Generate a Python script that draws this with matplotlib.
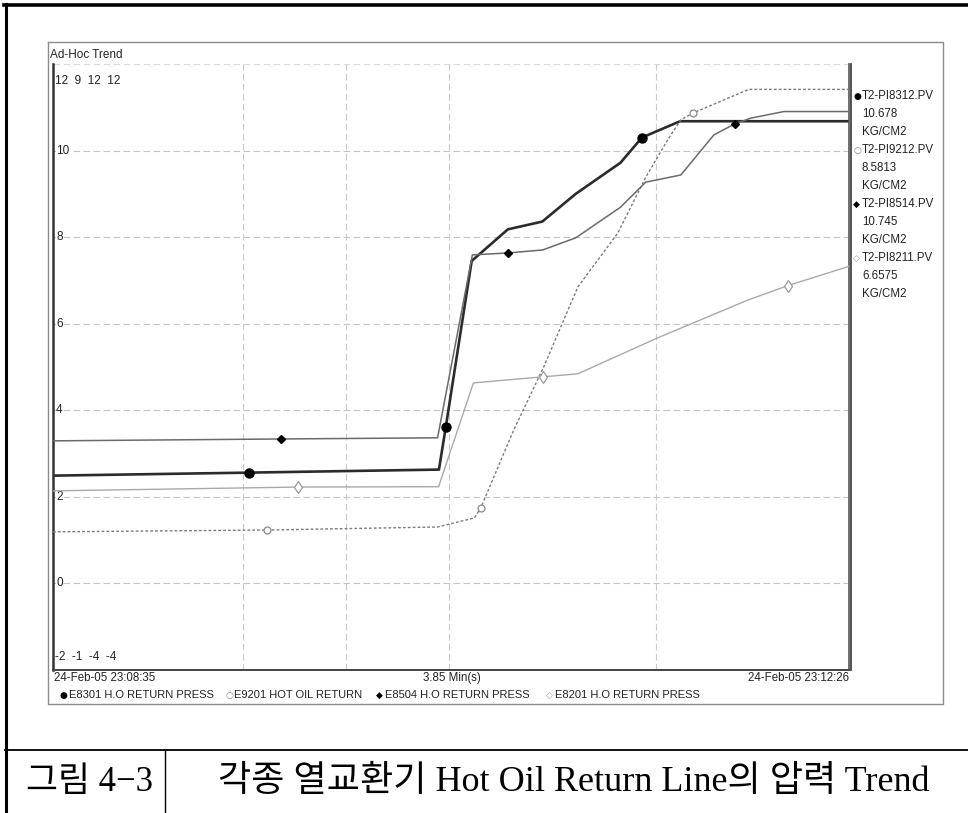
import matplotlib
matplotlib.use("Agg")
import matplotlib.pyplot as plt
from matplotlib.lines import Line2D
from datetime import datetime, timedelta

# ---- data: seconds after the window start, values in each tag's own units ----
start_time = datetime(2005, 2, 24, 23, 8, 35)
span_seconds = 231

# E8301 H.O RETURN PRESS  (T2-PI8312.PV)
t_8301 = [0, 57, 112, 114, 121.5, 132, 142, 151.7, 164.7, 170.9, 182, 231]
v_8301 = [2.49, 2.56, 2.63, 3.62, 7.45, 8.18, 8.36, 9.0, 9.72, 10.3, 10.678, 10.678]
mk_8301 = [1, 3, 9]

# E9201 HOT OIL RETURN  (T2-PI9212.PV)
t_9201 = [0, 62, 111.6, 122.3, 124.1, 133.7, 142.4, 152.3, 163.9, 172, 178.4, 182.2, 185.7, 201.9, 231]
v_9201 = [1.28, 1.31, 1.36, 1.51, 1.67, 2.96, 4.0, 5.32, 6.21, 7.13, 7.75, 8.08, 8.19, 8.5813, 8.5813]
mk_9201 = [1, 4, 12]

# E8504 H.O RETURN PRESS  (T2-PI8514.PV)
t_8504 = [0, 66.2, 111.6, 121.7, 131.9, 142.1, 151.7, 164.7, 172, 182.2, 191.8, 197.9, 202.5, 212.1, 231]
v_8504 = [2.05, 2.10, 2.13, 6.96, 7.01, 7.09, 7.41, 8.22, 8.88, 9.07, 10.13, 10.42, 10.57, 10.745, 10.745]
mk_8504 = [1, 4, 11]

# E8201 H.O RETURN PRESS  (T2-PI8211.PV)
t_8201 = [0, 71.2, 111.9, 122, 142.1, 152.3, 175.5, 201.7, 213.3, 231]
v_8201 = [0.73, 0.83, 0.84, 3.58, 3.74, 3.82, 4.77, 5.77, 6.15, 6.6575]
mk_8201 = [1, 4, 8]

series_names = ["E8301 H.O RETURN PRESS", "E9201 HOT OIL RETURN",
                "E8504 H.O RETURN PRESS", "E8201 H.O RETURN PRESS"]
tag_names = ["T2-PI8312.PV", "T2-PI9212.PV", "T2-PI8514.PV", "T2-PI8211.PV"]
tag_units = "KG/CM2"
scale_max = [12, 9, 12, 12]
scale_min = [-2, -1, -4, -4]
left_ticks = [0, 2, 4, 6, 8, 10]
grid_seconds = [55, 85, 115, 175]

caption_no = "그림 4−3"
caption_text = "각종 열교환기 Hot Oil Return Line의 압력 Trend"

# ---- figure ----
W, H = 968, 813
fig = plt.figure(figsize=(W / 100, H / 100), dpi=100)
fig.patch.set_facecolor("white")
UI = ["Liberation Sans", "DejaVu Sans"]


def fx(x):
    return x / W


def fy(y):
    return 1 - y / H


def fline(xs, ys, **kw):
    fig.add_artist(Line2D([fx(x) for x in xs], [fy(y) for y in ys],
                          transform=fig.transFigure, **kw))


# document frame and caption table
fline([4, 968], [5, 5], color="black", lw=2.6)
fline([6, 6], [4, 813], color="black", lw=2.2)
fline([5, 968], [750, 750], color="black", lw=1.3)
fline([165, 165], [750, 813], color="black", lw=1.0)

# screenshot frame
fline([48, 943, 943, 48, 48], [42, 42, 704, 704, 42], color="#8c8c8c", lw=1.0)
fline([851, 851], [64, 670], color="#444444", lw=1.3)

# ---- trend axes ----
ax = fig.add_axes([fx(53), fy(670), fx(849) - fx(53), fy(64) - fy(670)])
ax.set_xlim(0, span_seconds)
ax.set_ylim(scale_min[0], scale_max[0])
ax.set_xticks([])
ax.set_yticks([])
ax.spines["top"].set_visible(False)
ax.spines["left"].set_color("#333333")
ax.spines["left"].set_linewidth(1.8)
ax.spines["bottom"].set_color("#444444")
ax.spines["bottom"].set_linewidth(1.4)
ax.spines["right"].set_color("#555555")
ax.spines["right"].set_linewidth(1.2)

for v in left_ticks:
    ax.axhline(v, color="#c4c4c4", lw=0.8, ls=(0, (6, 3)), zorder=0)
ax.axhline(scale_max[0], color="#dcdcdc", lw=0.8, ls=(0, (6, 3)), zorder=0)
for s in grid_seconds:
    ax.axvline(s, color="#cacaca", lw=0.8, ls=(0, (6, 3)), zorder=0)

for v in left_ticks:
    ax.text(0.9, v, str(v), ha="left", va="center", fontsize=8.5, family=UI, zorder=1,
            color="#222222", bbox=dict(facecolor="white", edgecolor="none", pad=0.3))

ax.text(0.003, 0.982, "  ".join(str(m) for m in scale_max), transform=ax.transAxes,
        ha="left", va="top", fontsize=8.5, family=UI, color="#222222")
ax.text(0.003, 0.012, "  ".join(str(m) for m in scale_min), transform=ax.transAxes,
        ha="left", va="bottom", fontsize=8.5, family=UI, color="#222222")

# each tag is drawn on its own vertical scale
axes = [ax]
for i in range(1, 4):
    tw = ax.twinx()
    tw.set_ylim(scale_min[i], scale_max[i])
    tw.set_yticks([])
    for sp in tw.spines.values():
        sp.set_visible(False)
    tw.patch.set_visible(False)
    axes.append(tw)

axes[3].plot(t_8201, v_8201, color="#a9a9a9", lw=1.0, marker="d", ms=6,
             mfc="white", mec="#9a9a9a", mew=0.9, markevery=mk_8201)
axes[2].plot(t_8504, v_8504, color="#6a6a6a", lw=1.1, marker="D", ms=4.2,
             mfc="black", mec="black", markevery=mk_8504)
axes[1].plot(t_9201, v_9201, color="#7a7a7a", lw=1.0, ls=(0, (2, 1.5)), marker="o", ms=5,
             mfc="white", mec="#8a8a8a", mew=0.9, markevery=mk_9201)
axes[0].plot(t_8301, v_8301, color="#2b2b2b", lw=1.9, marker="o", ms=6.5,
             mfc="black", mec="black", markevery=mk_8301)

# ---- texts around the trend ----
fig.text(fx(50), fy(55), "Ad-Hoc Trend", ha="left", va="center", fontsize=8.5, family=UI, color="#222222")

end_time = start_time + timedelta(seconds=span_seconds)
fig.text(fx(54), fy(678), start_time.strftime("%d-%b-%y %H:%M:%S"), ha="left", va="center",
         fontsize=8.3, family=UI, color="#222222")
fig.text(fx(849), fy(678), end_time.strftime("%d-%b-%y %H:%M:%S"), ha="right", va="center",
         fontsize=8.3, family=UI, color="#222222")
fig.text(fx(452), fy(678), f"{span_seconds / 60:.2f} Min(s)", ha="center", va="center",
         fontsize=8.3, family=UI, color="#222222")

symbols = ["●", "○", "◆", "◇"]
sym_colors = ["black", "#888888", "black", "#999999"]
legend_x = [60, 225, 376, 546]
for sx, sym, col, name in zip(legend_x, symbols, sym_colors, series_names):
    fig.text(fx(sx), fy(695), sym, ha="left", va="center", fontsize=6.5, family=["DejaVu Sans"], color=col)
    fig.text(fx(sx + 9), fy(695), name, ha="left", va="center", fontsize=8.0, family=UI, color="#222222")

last_values = [v_8301[-1], v_9201[-1], v_8504[-1], v_8201[-1]]
for i, (tag, val) in enumerate(zip(tag_names, last_values)):
    y0 = 96 + i * 54
    fig.text(fx(853), fy(y0), symbols[i], ha="left", va="center", fontsize=6.5,
             family=["DejaVu Sans"], color=sym_colors[i])
    fig.text(fx(862), fy(y0), tag, ha="left", va="center", fontsize=8.3, family=UI, color="#222222")
    fig.text(fx(862), fy(y0 + 18), f"{val:g}", ha="left", va="center", fontsize=8.3, family=UI, color="#222222")
    fig.text(fx(862), fy(y0 + 36), tag_units, ha="left", va="center", fontsize=8.3, family=UI, color="#222222")

# ---- caption ----
CAP = ["Liberation Serif", "Noto Sans CJK KR"]
fig.text(fx(89), fy(782), caption_no, ha="center", va="center", fontsize=25, family=CAP, color="black")
fig.text(fx(574), fy(782), caption_text, ha="center", va="center", fontsize=26, family=CAP, color="black")

fig.savefig("out.png", dpi=100, facecolor="white")
